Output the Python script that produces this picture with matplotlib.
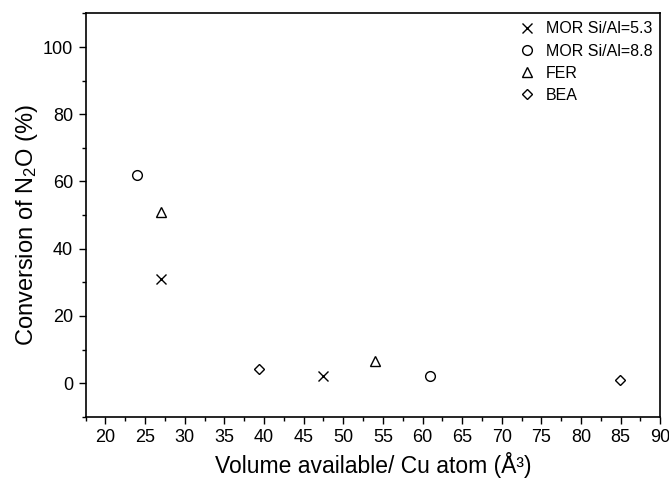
import numpy as np
import matplotlib
matplotlib.use("Agg")
import matplotlib.pyplot as plt
from matplotlib.ticker import MultipleLocator

plt.rcParams['font.family'] = ['Liberation Sans', 'DejaVu Sans']
plt.rcParams['mathtext.fontset'] = 'custom'
plt.rcParams['mathtext.rm'] = 'Liberation Sans'
plt.rcParams['mathtext.it'] = 'Liberation Sans'

# data
mor53_x = [27, 47.5]
mor53_y = [31, 2]
mor88_x = [24, 61]
mor88_y = [62, 2.2]
fer_x = [27, 54]
fer_y = [51, 6.6]
bea_x = [39.4, 84.9]
bea_y = [4.1, 1.0]

series = [
    ('MOR Si/Al=5.3', mor53_x, mor53_y, 'x'),
    ('MOR Si/Al=8.8', mor88_x, mor88_y, 'o'),
    ('FER', fer_x, fer_y, '^'),
    ('BEA', bea_x, bea_y, 'D'),
]

fig = plt.figure(figsize=(6.69, 4.79), dpi=100)
ax = fig.add_axes([0.128, 0.130, 0.859, 0.842])

for label, xs, ys, m in series:
    if m == 'x':
        ax.plot(xs, ys, linestyle='none', marker=m, color='black', markersize=7,
                markeredgewidth=1.0, label=label)
    else:
        ax.plot(xs, ys, linestyle='none', marker=m, markerfacecolor='none',
                markeredgecolor='black', markersize=7 if m != 'D' else 5.5,
                markeredgewidth=1.0, label=label)

ax.set_xlim(17.5, 90)
ax.set_ylim(-10, 110)
ax.xaxis.set_major_locator(MultipleLocator(5))
ax.xaxis.set_minor_locator(MultipleLocator(2.5))
ax.yaxis.set_major_locator(MultipleLocator(20))
ax.yaxis.set_minor_locator(MultipleLocator(10))
ax.tick_params(which='both', direction='out', top=False, right=False, labelsize=13, width=1.0)
ax.tick_params(which='major', length=5, pad=4)
ax.tick_params(which='minor', length=3)
for s in ax.spines.values():
    s.set_linewidth(1.2)

ax.set_xlabel('Volume available/ Cu atom (Å³)', fontsize=16.5, labelpad=4)
ax.set_ylabel('Conversion of N$_2$O (%)', fontsize=17, labelpad=2, y=0.475)

ax.legend(loc='upper right', frameon=False, fontsize=11.5, handletextpad=0.6,
          borderaxespad=0.1, labelspacing=0.45, handlelength=1.2)

fig.savefig('out.png', dpi=100)
